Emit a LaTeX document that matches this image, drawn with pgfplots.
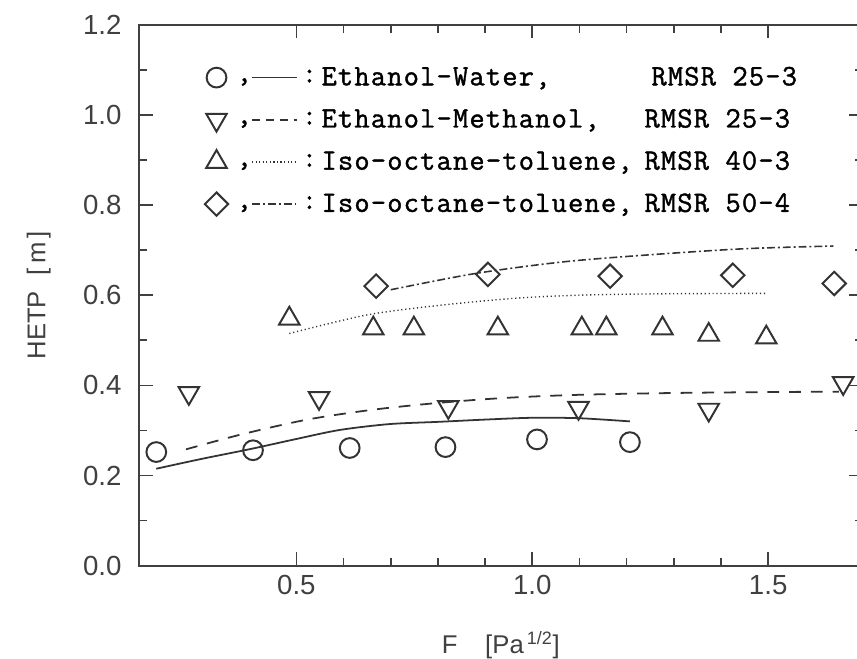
\documentclass[border=0pt]{standalone}
\usepackage{pgfplots}
\pgfplotsset{compat=1.18}
\usepackage{fontspec}
\setmainfont{Liberation Sans}
\newfontfamily\legfont{Latin Modern Mono}[FakeBold=1.3,LetterSpace=4]
\newlength\lw
\newcommand\lf{\legfont\fontsize{15}{16}\selectfont}
\newcommand\ent[2]{\makebox[\lw][l]{#1}#2}
\newcommand\limg[2]{%
  \draw[black!80, line width=1pt, #1] plot coordinates {(0pt,0pt)};
  \node[inner sep=0, anchor=base, font=\lf] at (14pt,-2pt) {,};
  \draw[black!80, #2] (18pt,0pt) -- (41pt,0pt);
  \node[inner sep=0, font=\lf] at (43pt,0pt) {:};
  \path (51pt,0pt);}
\begin{document}
\settowidth\lw{\lf Iso-octane-toluene,}
\addtolength\lw{6pt}
\begin{tikzpicture}
\useasboundingbox (-65pt,-47pt) rectangle (363.5pt,286.5pt);
\begin{axis}[
  name=ax,
  at={(0pt,0pt)}, anchor=south west,
  scale only axis,
  width=366.3pt, height=274pt,
  xmin=0.167, xmax=1.7, ymin=0, ymax=1.2,
  axis line style={line width=1pt, black!75},
  xtick={0.5,1.0,1.5}, ytick={0,0.2,...,1.21},
  minor x tick num=4, minor y tick num=1,
  tick align=inside, tick pos=both,
  major tick length=7pt, minor tick length=4pt,
  every tick/.style={line width=0.8pt, black!75},
  xticklabel style={/pgf/number format/fixed,/pgf/number format/precision=1,/pgf/number format/fixed zerofill, yshift=-1.5pt},
  yticklabel style={/pgf/number format/fixed,/pgf/number format/precision=1,/pgf/number format/fixed zerofill, xshift=-5.5pt},
  /pgf/number format/assume math mode=true,
  ticklabel style={font=\fontsize{14}{16}\selectfont, black!75},
  xlabel={F\hspace{14pt}[Pa\textsuperscript{\,1/2}]},
  ylabel={HETP\hspace{8pt}[\,m\,]},
  label style={font=\fontsize{13}{15}\selectfont, black!75},
  xlabel style={at={(axis description cs:0.5,0)}, anchor=base, yshift=-44.5pt},
  ylabel style={at={(axis description cs:-0.139,0.5)}, anchor=center},
  legend style={draw=none, fill=none, at={(axis description cs:0.09,0.93)}, anchor=north west,
    font=\lf, row sep=6.5pt, inner sep=0pt},
  legend cell align=left,
]
% legend images
\addlegendimage{legend image code/.code={\limg{mark=o, mark size=5pt}{line width=0.9pt, solid}}}
\addlegendentry{\ent{Ethanol-Water,}{\hspace{3.5pt}RMSR 25-3}}
\addlegendimage{legend image code/.code={\limg{mark=triangle, mark size=6pt, mark options={rotate=180}}{line width=0.9pt, dash pattern=on 4pt off 3pt}}}
\addlegendentry{\ent{Ethanol-Methanol,}{RMSR 25-3}}
\addlegendimage{legend image code/.code={\limg{mark=triangle, mark size=6pt}{line width=0.7pt, dash pattern=on 0.6pt off 1.2pt}}}
\addlegendentry{\ent{Iso-octane-toluene,}{RMSR 40-3}}
\addlegendimage{legend image code/.code={\limg{mark=square, mark size=4.2pt, mark options={rotate=45}}{line width=0.8pt, dash pattern=on 4pt off 1.5pt on 1pt off 1.5pt}}}
\addlegendentry{\ent{Iso-octane-toluene,}{RMSR 50-4}}

% data markers
\addplot[forget plot, only marks, mark=o, mark size=5pt, black!80, line width=1pt] coordinates {
 (0.203,0.252) (0.408,0.256) (0.613,0.261) (0.816,0.263) (1.010,0.280) (1.207,0.274)};
\addplot[forget plot, only marks, mark=triangle, mark size=6pt, mark options={rotate=180}, black!80, line width=1pt] coordinates {
 (0.272,0.383) (0.548,0.372) (0.822,0.352) (1.098,0.350) (1.374,0.346) (1.659,0.405)};
\addplot[forget plot, only marks, mark=triangle, mark size=6pt, black!80, line width=1pt] coordinates {
 (0.485,0.548) (0.663,0.526) (0.749,0.526) (0.927,0.526) (1.105,0.526) (1.157,0.526) (1.276,0.526) (1.374,0.512) (1.496,0.506)};
\addplot[forget plot, only marks, mark=square, mark size=4.2pt, mark options={rotate=45}, black!80, line width=1pt] coordinates {
 (0.669,0.620) (0.906,0.646) (1.165,0.642) (1.425,0.644) (1.640,0.626)};
% model lines
\addplot[forget plot, black!80, line width=0.9pt, solid, smooth] coordinates {
 (0.203,0.215) (0.300,0.237) (0.404,0.259) (0.500,0.281) (0.592,0.301) (0.697,0.314) (0.801,0.319) (0.900,0.324) (1.000,0.328) (1.100,0.327) (1.207,0.320)};
\addplot[forget plot, black!80, line width=0.9pt, dash pattern=on 6pt off 5pt, smooth] coordinates {
 (0.266,0.258) (0.383,0.291) (0.523,0.324) (0.663,0.346) (0.801,0.361) (0.941,0.372) (1.100,0.379) (1.300,0.383) (1.500,0.385) (1.650,0.386)};
\addplot[forget plot, black!80, line width=0.7pt, dash pattern=on 0.6pt off 1.4pt, smooth] coordinates {
 (0.485,0.515) (0.649,0.556) (0.800,0.577) (0.962,0.593) (1.100,0.600) (1.276,0.603) (1.496,0.604)};
\addplot[forget plot, black!80, line width=0.8pt, dash pattern=on 4pt off 1.5pt on 1pt off 1.5pt, smooth] coordinates {
 (0.700,0.612) (0.879,0.648) (1.067,0.674) (1.255,0.690) (1.450,0.703) (1.638,0.709)};
\end{axis}
\end{tikzpicture}
\end{document}
